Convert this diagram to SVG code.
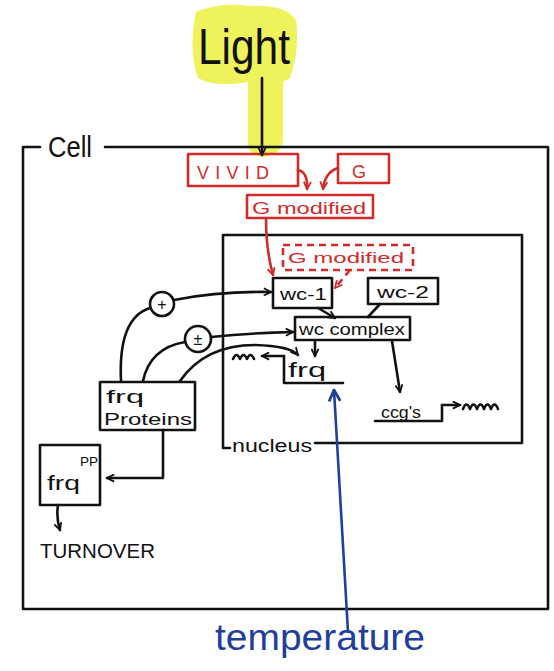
<svg xmlns="http://www.w3.org/2000/svg" width="554" height="671" viewBox="0 0 554 671">
<defs>
<marker id="ak" viewBox="0 0 10 10" refX="9" refY="5" markerWidth="9" markerHeight="9" markerUnits="userSpaceOnUse" orient="auto"><path d="M1,1 L9,5 L1,9" fill="none" stroke="#111" stroke-width="2"/></marker>
<marker id="ar" viewBox="0 0 10 10" refX="9" refY="5" markerWidth="9" markerHeight="9" markerUnits="userSpaceOnUse" orient="auto"><path d="M1,1 L9,5 L1,9" fill="none" stroke="#d32a2a" stroke-width="2"/></marker>
<marker id="ab" viewBox="0 0 10 10" refX="9" refY="5" markerWidth="14" markerHeight="14" markerUnits="userSpaceOnUse" orient="auto"><path d="M1,1 L9,5 L1,9" fill="none" stroke="#1f3ea0" stroke-width="2"/></marker>
<style>
.k{fill:none;stroke:#111;stroke-width:2.6;stroke-linecap:round;stroke-linejoin:round}
.r{fill:none;stroke:#d32a2a;stroke-width:2.6;stroke-linecap:round;stroke-linejoin:round}
.rd{fill:none;stroke:#d32a2a;stroke-width:2.6;stroke-dasharray:7 5}
.b{fill:none;stroke:#1f3ea0;stroke-width:2.6;stroke-linecap:round}
.tk{font-family:"Liberation Sans",Arial,sans-serif;fill:#111}
.tr{font-family:"Liberation Sans",Arial,sans-serif;fill:#d32a2a}
.tb{font-family:"Liberation Sans",Arial,sans-serif;fill:#1f3ea0}
</style>
</defs>
<rect width="554" height="671" fill="#fff"/>

<g id="light">
<path d="M196,12 Q220,2 250,6 Q285,4 296,20 Q300,50 290,78 L283,82 L283,140 Q282,155 262,157 Q246,154 248,140 L248,82 Q215,88 198,78 Q188,50 196,12 Z" fill="#eef35c"/>
<text class="tk" x="198" y="64" font-size="50" textLength="92" lengthAdjust="spacingAndGlyphs">Light</text>
</g>

<g id="cell">
<path class="k" d="M40,147 L23,147 L23,609 L548,609 L548,147 L105,147"/>
<text class="tk" x="48" y="157" font-size="29" textLength="44" lengthAdjust="spacingAndGlyphs">Cell</text>
</g>

<g id="nucleus">
<path class="k" d="M315,443 L522,443 L522,235 L223,235 L223,448 L230,448"/>
<text class="tk" x="232" y="452" font-size="19" textLength="80" lengthAdjust="spacingAndGlyphs">nucleus</text>
</g>

<g id="vivid">
<rect class="r" x="188" y="154" width="110" height="32"/>
<text class="tr" x="197" y="179" font-size="18" textLength="72" lengthAdjust="spacing">VIVID</text>
</g>

<g id="g">
<rect class="r" x="338" y="154" width="51" height="29"/>
<text class="tr" x="352" y="178" font-size="18">G</text>
</g>

<g id="g-modified">
<rect class="r" x="247" y="195" width="126" height="23"/>
<text class="tr" x="252" y="214" font-size="16" textLength="114" lengthAdjust="spacingAndGlyphs">G modified</text>
</g>

<g id="g-modified-nuclear">
<rect class="rd" x="283" y="245" width="130" height="25"/>
<text class="tr" x="288" y="263" font-size="15" textLength="116" lengthAdjust="spacingAndGlyphs">G modified</text>
</g>

<g id="wc-1">
<rect class="k" x="273" y="278" width="59" height="30"/>
<text class="tk" x="280" y="300" font-size="16" textLength="47" lengthAdjust="spacingAndGlyphs">wc-1</text>
</g>

<g id="wc-2">
<rect class="k" x="368" y="278" width="70" height="26"/>
<text class="tk" x="377" y="298" font-size="16" textLength="52" lengthAdjust="spacingAndGlyphs">wc-2</text>
</g>

<g id="wc-complex">
<rect class="k" x="295" y="317" width="115" height="23"/>
<text class="tk" x="299" y="335" font-size="16" textLength="106" lengthAdjust="spacingAndGlyphs">wc complex</text>
</g>

<g id="frq-gene">
<path class="k" d="M284,356 L284,383 L343,383"/>
<text class="tk" x="288" y="377" font-size="21" textLength="38" lengthAdjust="spacingAndGlyphs">frq</text>
</g>

<g id="ccgs">
<path class="k" d="M375,421 L442,421 L442,405"/>
<text class="tk" x="381" y="418" font-size="16" textLength="40" lengthAdjust="spacingAndGlyphs">ccg's</text>
</g>

<g id="frq-proteins">
<rect class="k" x="100" y="382" width="95" height="48"/>
<text class="tk" x="106" y="403" font-size="18" textLength="38" lengthAdjust="spacingAndGlyphs">frq</text>
<text class="tk" x="104" y="425" font-size="17" textLength="88" lengthAdjust="spacingAndGlyphs">Proteins</text>
</g>

<g id="frq-pp">
<rect class="k" x="40" y="445" width="60" height="60"/>
<text class="tk" x="47" y="490" font-size="20" textLength="33" lengthAdjust="spacingAndGlyphs">frq</text>
<text class="tk" x="80" y="466" font-size="13" textLength="18" lengthAdjust="spacingAndGlyphs">PP</text>
</g>

<g id="turnover">
<text class="tk" x="40" y="558" font-size="20" textLength="115" lengthAdjust="spacingAndGlyphs">TURNOVER</text>
</g>

<g id="plus">
<circle class="k" cx="162" cy="304" r="12"/>
<text class="tk" x="162" y="310" font-size="16" text-anchor="middle">+</text>
</g>

<g id="plusminus">
<circle class="k" cx="198" cy="339" r="13"/>
<text class="tk" x="198" y="345" font-size="16" text-anchor="middle">±</text>
</g>

<g id="temperature">
<text class="tb" x="215" y="650" font-size="36" textLength="210" lengthAdjust="spacingAndGlyphs">temperature</text>
</g>

<g id="connectors">
<path class="k" d="M262,78 L262,155" marker-end="url(#ak)"/>
<path class="r" d="M298,170 Q308,172 307,189" marker-end="url(#ar)"/>
<path class="r" d="M338,168 Q325,172 323,189" marker-end="url(#ar)"/>
<path class="r" d="M266,218 Q266,250 273,275" marker-end="url(#ar)"/>
<path class="rd" d="M350,270 L335,288" marker-end="url(#ar)"/>
<path class="k" d="M318,308 L335,318" marker-end="url(#ak)"/>
<path class="k" d="M380,304 L368,317"/>
<path class="k" d="M315,341 L315,356" marker-end="url(#ak)"/>
<path class="k" d="M392,341 L400,392" marker-end="url(#ak)"/>
<path class="k" d="M442,405 L460,405" marker-end="url(#ak)"/>
<path class="k" d="M463,409 q3.5,-9 7,0 q3.5,-9 7,0 q3.5,-9 7,0 q3.5,-9 7,0 q3.5,-9 7,0"/>
<path class="k" d="M284,356 L262,356" marker-end="url(#ak)"/>
<path class="k" d="M233,359 q3.5,-8 7,0 q3.5,-8 7,0 q3.5,-8 7,0"/>
<path class="k" d="M121,381 Q118,318 150,308"/>
<path class="k" d="M174,300 Q220,291 271,292" marker-end="url(#ak)"/>
<path class="k" d="M143,381 Q150,348 185,342"/>
<path class="k" d="M211,337 Q250,333 293,332" marker-end="url(#ak)"/>
<path class="k" d="M180,381 Q205,345 255,345 Q290,346 298,355" marker-end="url(#ak)"/>
<path class="k" d="M163,430 L163,478 L107,478" marker-end="url(#ak)"/>
<path class="k" d="M58,505 Q56,518 60,530" marker-end="url(#ak)"/>
<path class="b" d="M348,632 L334,390" marker-end="url(#ab)"/>
</g>
</svg>
